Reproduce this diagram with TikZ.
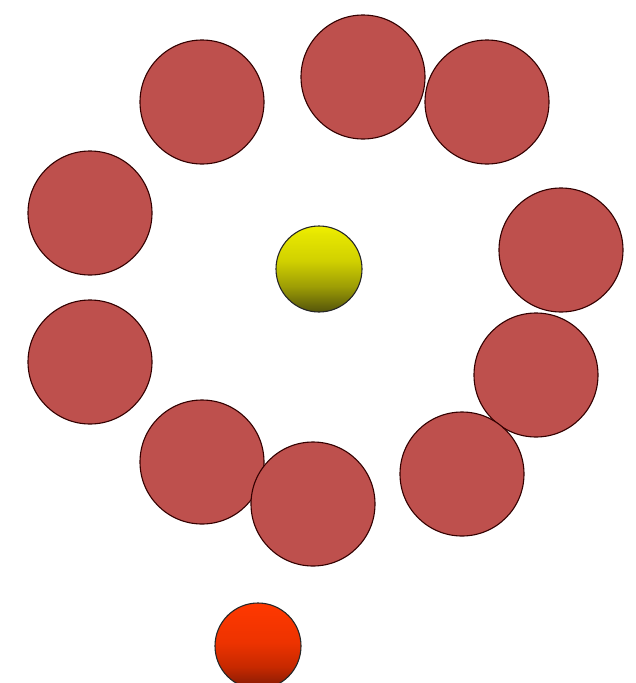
\documentclass[tikz,border=0pt]{standalone}
\pgfdeclareverticalshading{yellowball}{100bp}{
  rgb(0bp)=(0.33,0.33,0.04);
  rgb(25bp)=(0.33,0.33,0.04);
  rgb(40bp)=(0.62,0.62,0.02);
  rgb(55bp)=(0.82,0.82,0.0);
  rgb(70bp)=(0.90,0.90,0.0);
  rgb(75bp)=(0.94,0.94,0.0);
  rgb(100bp)=(0.94,0.94,0.0)}
\pgfdeclareverticalshading{redball}{100bp}{
  rgb(0bp)=(0.50,0.10,0.02);
  rgb(25bp)=(0.50,0.10,0.02);
  rgb(38bp)=(0.78,0.16,0.0);
  rgb(52bp)=(0.93,0.20,0.0);
  rgb(75bp)=(1.0,0.22,0.0);
  rgb(100bp)=(1.0,0.22,0.0)}
\begin{document}
\begin{tikzpicture}[x=1pt,y=-1pt,
  ball/.style={circle,draw=black!80!red,line width=1.1pt,inner sep=0pt,minimum size=124pt,fill=redfill},
  smallball/.style={circle,draw=black!85,line width=1.1pt,inner sep=0pt,minimum size=86pt}]
\definecolor{redfill}{HTML}{BE504D}
\useasboundingbox[fill=white] (0,0) rectangle (636,683);
\node[ball] (b1) at (202,102) {};
\node[ball] (b2) at (363,77) {};
\node[ball] (b3) at (487,102) {};
\node[ball] (b4) at (90,213) {};
\node[ball] (b5) at (561,250) {};
\node[ball] (b6) at (90,362) {};
\node[ball] (b7) at (536,375) {};
\node[ball] (b8) at (202,462) {};
\node[ball] (b9) at (313,504) {};
\node[ball] (b10) at (462,474) {};
\node[smallball,shading=yellowball] (yellow) at (319,269) {};
\node[smallball,shading=redball] (orange) at (258,646) {};
\end{tikzpicture}
\end{document}
